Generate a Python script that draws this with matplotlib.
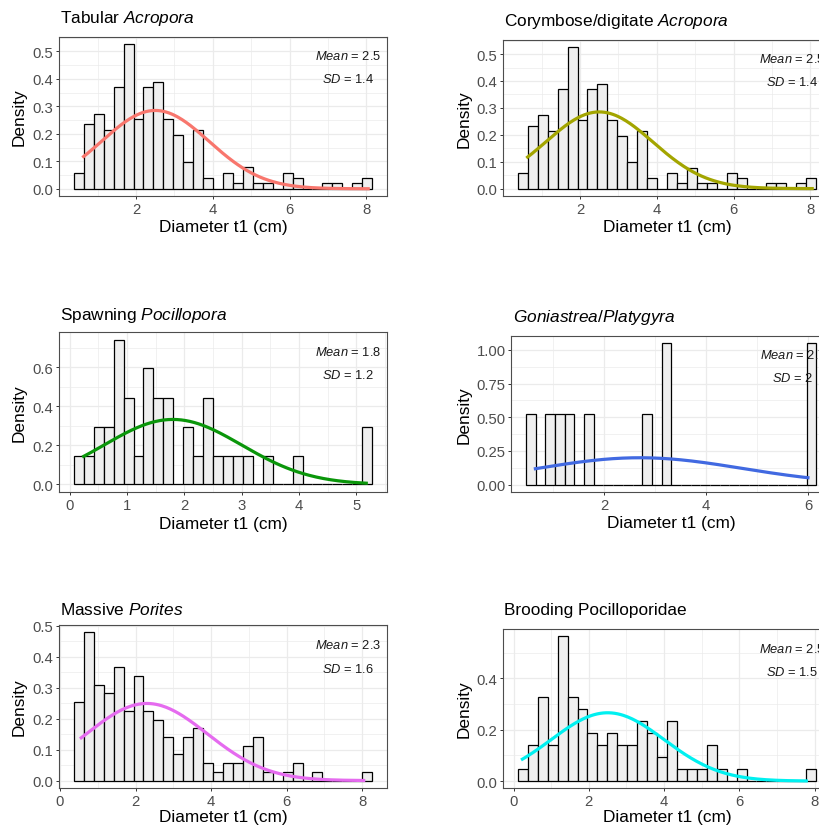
import numpy as np
import matplotlib.pyplot as plt

plt.rcParams['font.family'] = ['Liberation Sans', 'DejaVu Sans']
plt.rcParams['mathtext.fontset'] = 'custom'
plt.rcParams['mathtext.rm'] = 'Liberation Sans'
plt.rcParams['mathtext.it'] = 'Liberation Sans:italic'

# Histogram densities per growth form (30 bins each)
tabular = [0.059, 0.234, 0.273, 0.215, 0.371, 0.527, 0.254, 0.371, 0.390, 0.254,
           0.195, 0.098, 0.215, 0.039, 0.0, 0.059, 0.020, 0.078, 0.020, 0.020,
           0.0, 0.059, 0.039, 0.0, 0.0, 0.020, 0.020, 0.0, 0.020, 0.039]
corymbose = list(tabular)
spawning_poc = [0.148, 0.148, 0.296, 0.296, 0.741, 0.444, 0.148, 0.593, 0.444, 0.444,
                0.0, 0.296, 0.148, 0.444, 0.148, 0.148, 0.148, 0.148, 0.0, 0.148,
                0.0, 0.0, 0.148, 0.0, 0.0, 0.0, 0.0, 0.0, 0.0, 0.296]
goniastrea = [0.526, 0.0, 0.526, 0.526, 0.526, 0.0, 0.526, 0.0, 0.0, 0.0,
              0.0, 0.0, 0.526, 0.0, 1.053, 0.0, 0.0, 0.0, 0.0, 0.0,
              0.0, 0.0, 0.0, 0.0, 0.0, 0.0, 0.0, 0.0, 0.0, 1.053]
porites = [0.254, 0.479, 0.310, 0.282, 0.366, 0.225, 0.338, 0.225, 0.197, 0.141,
           0.085, 0.141, 0.169, 0.056, 0.028, 0.056, 0.056, 0.113, 0.141, 0.028,
           0.0, 0.028, 0.056, 0.0, 0.028, 0.0, 0.0, 0.0, 0.0, 0.028]
brooding = [0.047, 0.141, 0.329, 0.141, 0.564, 0.329, 0.282, 0.188, 0.141, 0.188,
            0.141, 0.141, 0.235, 0.188, 0.094, 0.235, 0.047, 0.047, 0.047, 0.141,
            0.047, 0.0, 0.047, 0.0, 0.0, 0.0, 0.0, 0.0, 0.0, 0.047]

titles = [r'Tabular $\it{Acropora}$', r'Corymbose/digitate $\it{Acropora}$',
          r'Spawning $\it{Pocillopora}$', r'$\it{Goniastrea}$/$\it{Platygyra}$',
          r'Massive $\it{Porites}$', 'Brooding Pocilloporidae']
densities = [tabular, corymbose, spawning_poc, goniastrea, porites, brooding]
bin_start = [0.38, 0.38, 0.075, 0.467, 0.37, 0.117]
bin_width = [0.259, 0.259, 0.1733, 0.19, 0.263, 0.264]
means = [2.5, 2.5, 1.8, 2.7, 2.3, 2.5]
sds = [1.4, 1.4, 1.2, 2.0, 1.6, 1.5]
curve_from = [0.6, 0.6, 0.22, 0.62, 0.53, 0.2]
curve_to = [8.09, 8.09, 5.2, 6.03, 8.08, 7.82]
mean_labels = ['2.5', '2.5', '1.8', '2.7', '2.3', '2.5']
sd_labels = ['1.4', '1.4', '1.2', '2', '1.6', '1.5']
x_ticks = [[2, 4, 6, 8], [2, 4, 6, 8], [0, 1, 2, 3, 4, 5], [2, 4, 6],
           [0, 2, 4, 6, 8], [0, 2, 4, 6, 8]]
y_ticks = [[0, 0.1, 0.2, 0.3, 0.4, 0.5], [0, 0.1, 0.2, 0.3, 0.4, 0.5],
           [0, 0.2, 0.4, 0.6], [0, 0.25, 0.5, 0.75, 1.0],
           [0, 0.1, 0.2, 0.3, 0.4, 0.5], [0, 0.2, 0.4]]
y_fmt = ['{:.1f}', '{:.1f}', '{:.1f}', '{:.2f}', '{:.1f}', '{:.1f}']

line_colors = ['#F8766D', '#A3A500', '#0A960A', '#4169E1', '#E56BEF', '#00F0F0']

# panel boxes in pixels: left, top, right, bottom; title x / baseline
W, H = 820, 829
boxes = [(59, 37.7, 387, 197), (503, 40.7, 831, 196.7),
         (59, 333.3, 387, 492.7), (511.5, 336.7, 831, 492.7),
         (59, 626, 387, 789), (503, 630, 831, 789.3)]
title_pos = [(60, 22.7), (504, 26), (60, 320), (512.7, 322.3), (60, 615.3), (504, 615.3)]
xlab_base = [232.3, 231.7, 529.3, 528.3, 822.3, 822.3]
ylab_x = [19, 464, 19, 464, 19, 464]

fig = plt.figure(figsize=(W / 100, H / 100), dpi=100)

for i in range(6):
    l, t, r, b = boxes[i]
    ax = fig.add_axes([l / W, 1 - b / H, (r - l) / W, (b - t) / H])
    dens = np.array(densities[i])
    edges = bin_start[i] + bin_width[i] * np.arange(len(dens))
    ax.bar(edges, dens, width=bin_width[i], align='edge', color='#EFEFEF',
           edgecolor='black', linewidth=0.9, zorder=2)

    xs = np.linspace(curve_from[i], curve_to[i], 200)
    pdf = np.exp(-0.5 * ((xs - means[i]) / sds[i]) ** 2) / (sds[i] * np.sqrt(2 * np.pi))
    ax.plot(xs, pdf, color=line_colors[i], linewidth=2.3, zorder=3,
            solid_capstyle='butt')

    ymax = dens.max()
    ax.set_ylim(-0.05 * ymax, 1.05 * ymax)
    ax.set_xticks(x_ticks[i])
    xt = x_ticks[i]
    step = xt[1] - xt[0]
    ax.set_xticks(np.arange(xt[0] - step / 2, xt[-1] + step, step), minor=True)
    ax.set_yticks(y_ticks[i])
    ax.set_yticklabels([y_fmt[i].format(v) for v in y_ticks[i]])
    yt = y_ticks[i]
    ystep = yt[1] - yt[0]
    ax.set_yticks(np.arange(yt[0] + ystep / 2, 1.05 * ymax, ystep), minor=True)
    ax.set_xlim(edges[0] - 0.05 * (edges[-1] + bin_width[i] - edges[0]),
                edges[-1] + bin_width[i] + 0.05 * (edges[-1] + bin_width[i] - edges[0]))

    ax.grid(True, which='major', color='#EBEBEB', linewidth=0.9, zorder=0)
    ax.grid(True, which='minor', color='#EBEBEB', linewidth=0.5, zorder=0)
    ax.set_axisbelow(True)
    ax.tick_params(which='major', direction='out', length=2.4, width=0.7,
                   color='#333333', labelcolor='#4D4D4D', labelsize=10.7, pad=1.8)
    ax.tick_params(which='minor', length=0)
    for s in ax.spines.values():
        s.set_color('#4D4D4D')
        s.set_linewidth(0.8)

    ax.text(0.88, 0.88, r'$\it{Mean}$ = ' + mean_labels[i], transform=ax.transAxes,
            ha='center', va='center', fontsize=9.3, color='#1A1A1A')
    ax.text(0.88, 0.735, r'$\it{SD}$ = ' + sd_labels[i], transform=ax.transAxes,
            ha='center', va='center', fontsize=9.3, color='#1A1A1A')

    tx, ty = title_pos[i]
    fig.text(tx / W, 1 - ty / H, titles[i], ha='left', va='baseline', fontsize=12.4)
    fig.text((l + r) / 2 / W, 1 - xlab_base[i] / H, 'Diameter t1 (cm)',
             ha='center', va='baseline', fontsize=12.4)
    fig.text(ylab_x[i] / W, 1 - (t + b) / 2 / H, 'Density', rotation=90,
             ha='center', va='center', fontsize=12.4)

fig.savefig('out.png', dpi=100)
